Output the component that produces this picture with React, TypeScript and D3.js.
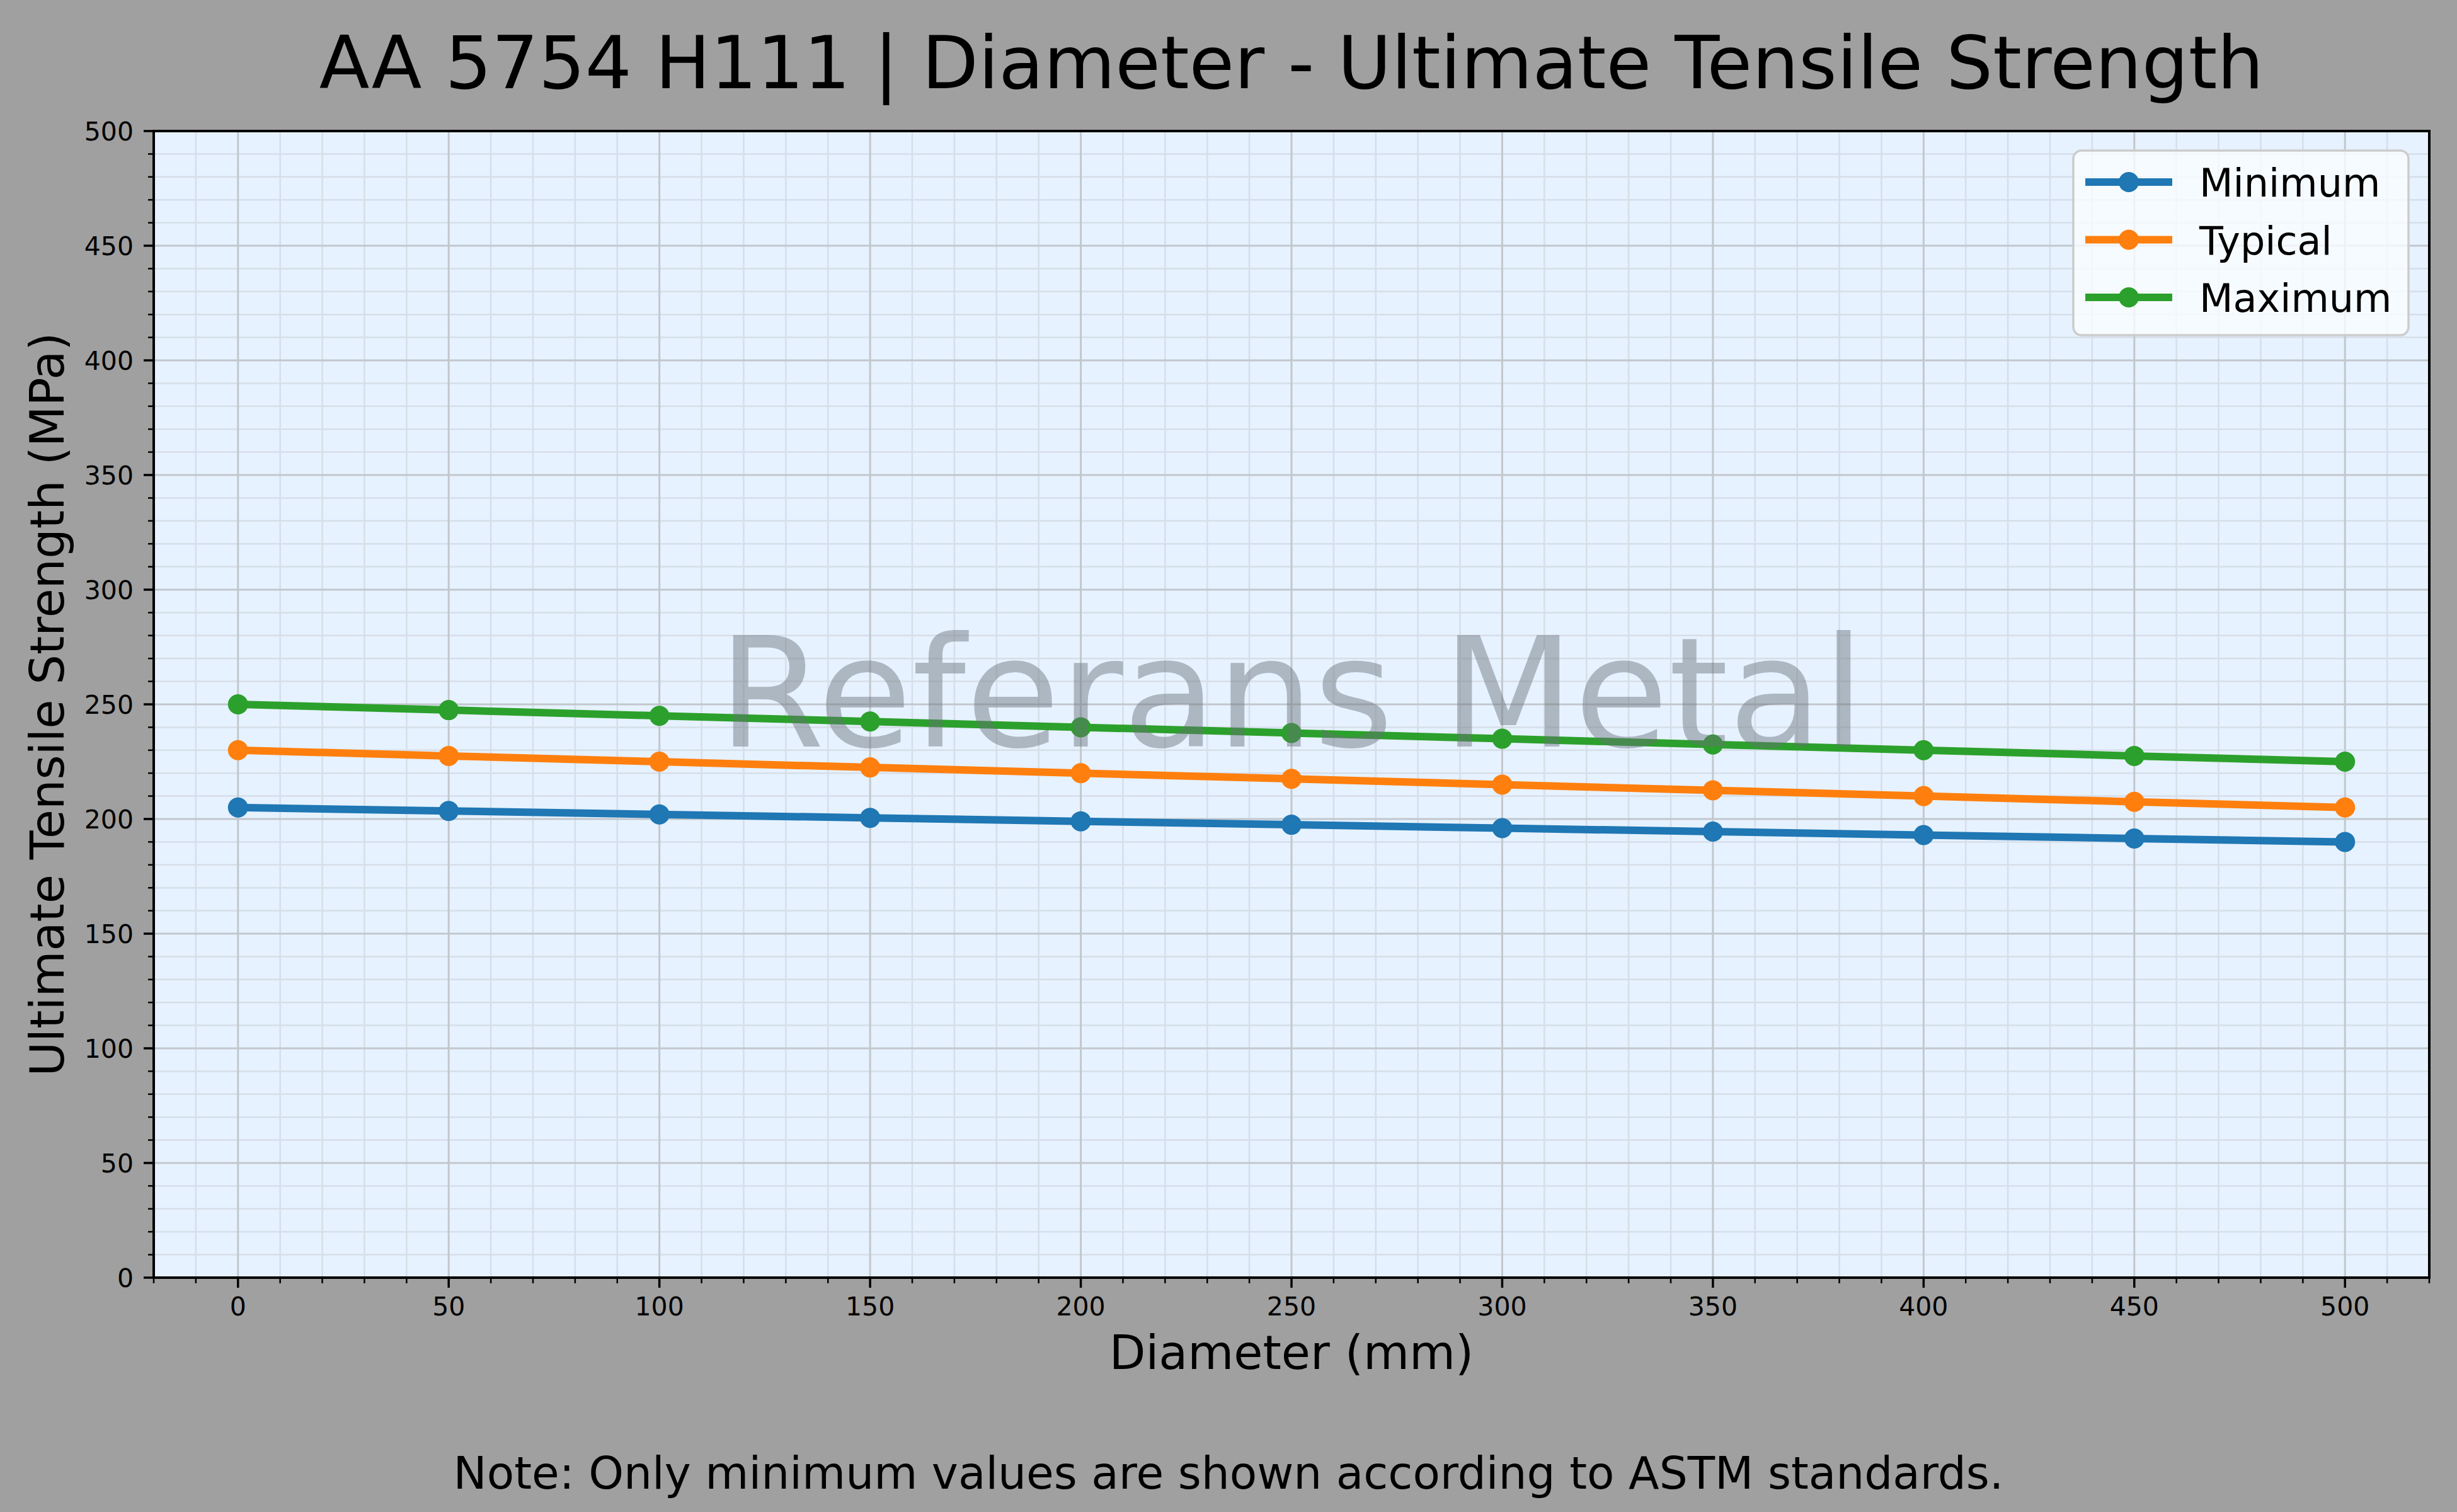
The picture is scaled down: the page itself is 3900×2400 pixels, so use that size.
import React from 'react';
import * as d3 from 'd3';

// values
const diameters = [0, 50, 100, 150, 200, 250, 300, 350, 400, 450, 500];
const minimumUts = [205, 203.5, 202, 200.5, 199, 197.5, 196, 194.5, 193, 191.5, 190];
const typicalUts = [230, 227.5, 225, 222.5, 220, 217.5, 215, 212.5, 210, 207.5, 205];
const maximumUts = [250, 247.5, 245, 242.5, 240, 237.5, 235, 232.5, 230, 227.5, 225];
const seriesNames = ['Minimum', 'Typical', 'Maximum'];
const seriesColors = ['#1f77b4', '#ff7f0e', '#2ca02c'];

const W = 3900;
const H = 2400;
const margin = { left: 244, right: 3856, top: 208, bottom: 2028 };
const font = '"DejaVu Sans", Verdana, sans-serif';

const App = () => {
  const x = d3.scaleLinear().domain([-20, 520]).range([margin.left, margin.right]);
  const y = d3.scaleLinear().domain([0, 500]).range([margin.bottom, margin.top]);

  const xMajor = x.ticks(10);
  const xMinor = x.ticks(50).filter(t => !xMajor.includes(t));
  const yMajor = y.ticks(10);
  const yMinor = y.ticks(50).filter(t => !yMajor.includes(t));

  const series = [minimumUts, typicalUts, maximumUts];
  const line = d3.line<number>()
    .x((_, i) => x(diameters[i]))
    .y(d => y(d));

  const legendX = 3291;
  const legendY = 239;
  const rowGap = 91.5;

  return (
    <svg width={W} height={H} style={{ position: 'absolute', left: 0, top: 0 }} fontFamily={font}>
      <rect width={W} height={H} fill="#a0a0a0" />
      <rect x={margin.left} y={margin.top} width={margin.right - margin.left}
        height={margin.bottom - margin.top} fill="#e6f2ff" />

      {/* minor grid */}
      <g stroke="#d6dee8" strokeWidth={2.5}>
        {xMinor.map(t => <line key={'xm' + t} x1={x(t)} x2={x(t)} y1={margin.top} y2={margin.bottom} />)}
        {yMinor.map(t => <line key={'ym' + t} y1={y(t)} y2={y(t)} x1={margin.left} x2={margin.right} />)}
      </g>
      {/* major grid */}
      <g stroke="#c2c7cd" strokeWidth={3}>
        {xMajor.map(t => <line key={'xg' + t} x1={x(t)} x2={x(t)} y1={margin.top} y2={margin.bottom} />)}
        {yMajor.map(t => <line key={'yg' + t} y1={y(t)} y2={y(t)} x1={margin.left} x2={margin.right} />)}
      </g>

      {series.map((vals, s) => (
        <g key={seriesNames[s]}>
          <path d={line(vals) || ''} fill="none" stroke={seriesColors[s]} strokeWidth={12}
            strokeLinejoin="round" />
          {vals.map((v, i) => (
            <circle key={i} cx={x(diameters[i])} cy={y(v)} r={16} fill={seriesColors[s]} />
          ))}
        </g>
      ))}

      {/* watermark */}
      <text x={(margin.left + margin.right) / 2} y={1185} textAnchor="middle" fontSize={243}
        fill="#686e78" fillOpacity={0.45}>Referans Metal</text>

      {/* spines */}
      <rect x={margin.left} y={margin.top} width={margin.right - margin.left}
        height={margin.bottom - margin.top} fill="none" stroke="#000" strokeWidth={4} />

      {/* ticks */}
      <g stroke="#000" strokeWidth={3.5}>
        {xMajor.map(t => <line key={'xt' + t} x1={x(t)} x2={x(t)} y1={margin.bottom} y2={margin.bottom + 16} />)}
        {xMinor.map(t => <line key={'xmt' + t} x1={x(t)} x2={x(t)} y1={margin.bottom} y2={margin.bottom + 9} strokeWidth={2.5} />)}
        {yMajor.map(t => <line key={'yt' + t} y1={y(t)} y2={y(t)} x1={margin.left} x2={margin.left - 16} />)}
        {yMinor.map(t => <line key={'ymt' + t} y1={y(t)} y2={y(t)} x1={margin.left} x2={margin.left - 9} strokeWidth={2.5} />)}
      </g>
      <g fontSize={41} fill="#000">
        {xMajor.map(t => (
          <text key={'xl' + t} x={x(t)} y={margin.bottom + 60} textAnchor="middle">{t}</text>
        ))}
        {yMajor.map(t => (
          <text key={'yl' + t} x={margin.left - 32} y={y(t) + 15} textAnchor="end">{t}</text>
        ))}
      </g>

      {/* titles */}
      <text x={(margin.left + margin.right) / 2} y={140} textAnchor="middle" fontSize={116.5}>
        AA 5754 H111 | Diameter - Ultimate Tensile Strength
      </text>
      <text x={(margin.left + margin.right) / 2} y={2173} textAnchor="middle" fontSize={75}>
        Diameter (mm)
      </text>
      <text transform={`translate(101, ${(margin.top + margin.bottom) / 2}) rotate(-90)`}
        textAnchor="middle" fontSize={75}>Ultimate Tensile Strength (MPa)</text>
      <text x={W / 2} y={2363} textAnchor="middle" fontSize={71}>
        Note: Only minimum values are shown according to ASTM standards.
      </text>

      {/* legend */}
      <rect x={legendX} y={legendY} width={532} height={293} rx={13} fill="#fafcff"
        fillOpacity={0.8} stroke="#cccccc" strokeWidth={3.5} />
      {seriesNames.map((name, s) => {
        const cy = legendY + 50 + s * rowGap;
        return (
          <g key={'lg' + name}>
            <line x1={legendX + 19} x2={legendX + 157} y1={cy} y2={cy} stroke={seriesColors[s]} strokeWidth={12} />
            <circle cx={legendX + 88} cy={cy} r={16} fill={seriesColors[s]} />
            <text x={legendX + 200} y={cy + 23} fontSize={62}>{name}</text>
          </g>
        );
      })}
    </svg>
  );
};

export default App;
